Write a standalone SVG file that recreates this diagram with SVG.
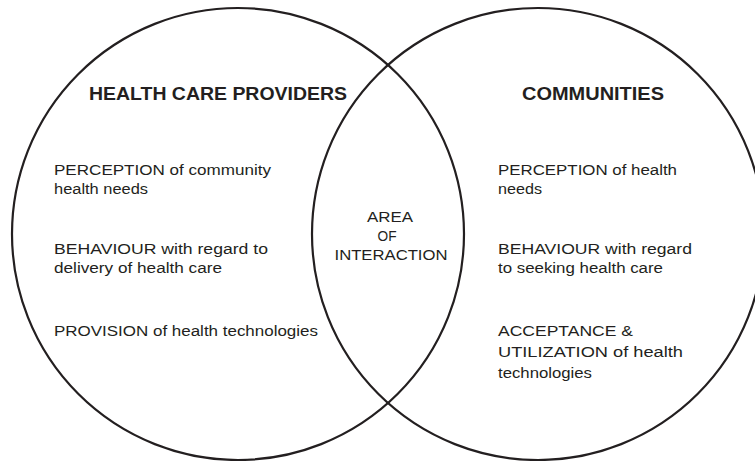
<svg xmlns="http://www.w3.org/2000/svg" width="755" height="461" viewBox="0 0 755 461">
<style>
.c{fill:none;stroke:#231f20;stroke-width:2.2}
.h{font-family:"Liberation Sans",Arial,sans-serif;font-weight:bold;font-size:18px;fill:#231f20}
.t{font-family:"Liberation Sans",Arial,sans-serif;font-size:15.5px;fill:#231f20}
.m{text-anchor:middle}
</style>
<rect width="755" height="461" fill="#ffffff"/>
<g id="providers">
<circle class="c" cx="238" cy="234" r="226"/>
<text class="h" x="89" y="100" textLength="258" lengthAdjust="spacingAndGlyphs">HEALTH CARE PROVIDERS</text>
<text class="t" x="54" y="175" textLength="217" lengthAdjust="spacingAndGlyphs">PERCEPTION of community</text>
<text class="t" x="54" y="194" textLength="94" lengthAdjust="spacingAndGlyphs">health needs</text>
<text class="t" x="54" y="254" textLength="214" lengthAdjust="spacingAndGlyphs">BEHAVIOUR with regard to</text>
<text class="t" x="54" y="273" textLength="168" lengthAdjust="spacingAndGlyphs">delivery of health care</text>
<text class="t" x="54" y="336" textLength="264" lengthAdjust="spacingAndGlyphs">PROVISION of health technologies</text>
</g>
<g id="communities">
<circle class="c" cx="538" cy="234" r="226"/>
<text class="h" x="522" y="100" textLength="142" lengthAdjust="spacingAndGlyphs">COMMUNITIES</text>
<text class="t" x="498" y="175" textLength="179" lengthAdjust="spacingAndGlyphs">PERCEPTION of health</text>
<text class="t" x="498" y="194" textLength="44" lengthAdjust="spacingAndGlyphs">needs</text>
<text class="t" x="498" y="254" textLength="194" lengthAdjust="spacingAndGlyphs">BEHAVIOUR with regard</text>
<text class="t" x="498" y="273" textLength="165" lengthAdjust="spacingAndGlyphs">to seeking health care</text>
<text class="t" x="498" y="336" textLength="135" lengthAdjust="spacingAndGlyphs">ACCEPTANCE &amp;</text>
<text class="t" x="498" y="357" textLength="185" lengthAdjust="spacingAndGlyphs">UTILIZATION of health</text>
<text class="t" x="498" y="378" textLength="94" lengthAdjust="spacingAndGlyphs">technologies</text>
</g>
<g id="interaction">
<text class="t m" x="390" y="222" textLength="46" lengthAdjust="spacingAndGlyphs">AREA</text>
<text class="t m" x="387" y="241" textLength="19" lengthAdjust="spacingAndGlyphs">OF</text>
<text class="t m" x="391" y="260" textLength="113" lengthAdjust="spacingAndGlyphs">INTERACTION</text>
</g>
<g id="connectors"></g>
</svg>
